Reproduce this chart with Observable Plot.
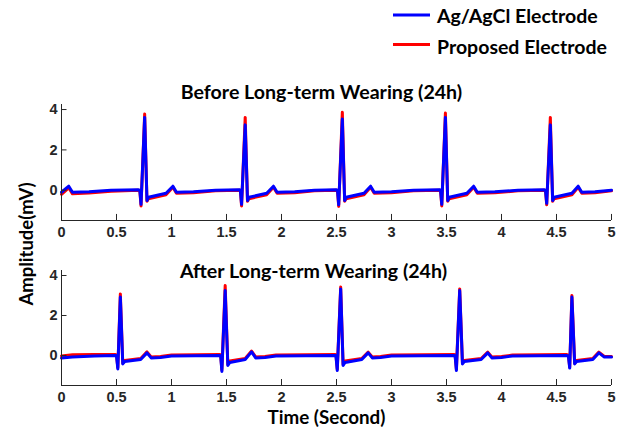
<!DOCTYPE html>
<html>
<head>
<meta charset="utf-8">
<script src="https://cdn.jsdelivr.net/npm/d3@7"></script>
<script src="https://cdn.jsdelivr.net/npm/@observablehq/plot@0.6"></script>
<style>
  html, body { margin: 0; padding: 0; background: #fff; }
  #wrap { position: relative; width: 626px; height: 432px; overflow: hidden; }
  #wrap > svg, #wrap > figure { position: absolute; left: 0; margin: 0; }
</style>
</head>
<body>
<div id="wrap"></div>
<script>
// ---------- DATA ----------
const xTicks = [0, 0.5, 1, 1.5, 2, 2.5, 3, 3.5, 4, 4.5, 5];
const yTicks = [0, 2, 4];

const seriesNames = ["Ag/AgCl Electrode", "Proposed Electrode"];
const panelTitles = ["Before Long-term Wearing (24h)", "After Long-term Wearing (24h)"];
const xLabel = "Time (Second)";
const yLabel = "Amplitude(mV)";

// Before long-term wearing: time (s), Ag/AgCl (mV), Proposed (mV)
const beforeT = [
  0.00, 0.066, 0.10, 0.25, 0.45, 0.70,
  0.712, 0.723, 0.756, 0.777, 0.790, 0.95, 1.013, 1.045, 1.20, 1.40, 1.62,
  1.626, 1.637, 1.670, 1.691, 1.704, 1.865, 1.927, 1.960, 2.12, 2.30, 2.50,
  2.509, 2.520, 2.553, 2.574, 2.587, 2.75, 2.81, 2.843, 3.00, 3.20, 3.44,
  3.446, 3.457, 3.490, 3.511, 3.524, 3.685, 3.747, 3.780, 3.94, 4.15, 4.39,
  4.400, 4.411, 4.444, 4.465, 4.478, 4.64, 4.697, 4.730, 4.85, 5.00
];
const beforeAg = [
  -0.10, 0.20, -0.10, -0.08, 0.00, 0.02,
  0.00, -0.70, 3.61, -0.51, -0.35, -0.15, 0.20, -0.10, -0.08, 0.00, 0.02,
  0.00, -0.70, 3.24, -0.51, -0.35, -0.15, 0.20, -0.10, -0.08, 0.00, 0.02,
  0.00, -0.72, 3.53, -0.51, -0.35, -0.15, 0.20, -0.10, -0.08, 0.00, 0.02,
  0.00, -0.70, 3.61, -0.51, -0.35, -0.15, 0.20, -0.10, -0.08, 0.00, 0.02,
  0.00, -0.65, 3.24, -0.51, -0.35, -0.15, 0.20, -0.10, -0.08, 0.00
];
const beforeProp = [
  -0.20, 0.12, -0.18, -0.14, -0.05, 0.00,
  -0.02, -0.78, 3.78, -0.55, -0.42, -0.22, 0.15, -0.15, -0.12, -0.03, 0.00,
  -0.02, -0.78, 3.61, -0.55, -0.42, -0.22, 0.15, -0.15, -0.12, -0.03, 0.00,
  -0.02, -0.80, 3.86, -0.55, -0.42, -0.22, 0.15, -0.15, -0.12, -0.03, 0.00,
  -0.02, -0.78, 3.83, -0.55, -0.42, -0.22, 0.15, -0.15, -0.12, -0.03, 0.00,
  -0.02, -0.72, 3.61, -0.55, -0.42, -0.22, 0.15, -0.15, -0.12, -0.03
];

// After long-term wearing: time (s), Ag/AgCl (mV), Proposed (mV)
const afterT = [
  0.00, 0.10, 0.30, 0.49,
  0.500, 0.512, 0.535, 0.557, 0.575, 0.72, 0.777, 0.815, 0.90, 1.00, 1.44,
  1.447, 1.458, 1.488, 1.512, 1.530, 1.67, 1.728, 1.765, 1.85, 1.95, 2.49,
  2.495, 2.507, 2.538, 2.560, 2.578, 2.73, 2.788, 2.825, 2.90, 3.00, 3.57,
  3.578, 3.590, 3.620, 3.645, 3.662, 3.815, 3.875, 3.912, 4.00, 4.10, 4.59,
  4.608, 4.620, 4.640, 4.665, 4.682, 4.83, 4.885, 4.935, 5.00
];
const afterAg = [
  -0.13, -0.08, -0.03, 0.00,
  -0.02, -0.67, 2.92, -0.42, -0.30, -0.20, 0.13, -0.12, -0.10, -0.02, 0.00,
  -0.02, -0.80, 3.25, -0.50, -0.35, -0.20, 0.18, -0.12, -0.10, -0.02, 0.00,
  -0.02, -0.75, 3.33, -0.50, -0.35, -0.20, 0.13, -0.12, -0.10, -0.02, 0.00,
  -0.02, -0.75, 3.25, -0.42, -0.30, -0.20, 0.13, -0.12, -0.10, -0.02, 0.00,
  -0.02, -0.63, 2.92, -0.42, -0.30, -0.20, 0.13, -0.08, -0.08
];
const afterProp = [
  -0.02, 0.04, 0.05, 0.05,
  0.02, -0.60, 3.08, -0.38, -0.25, -0.15, 0.18, -0.07, -0.05, 0.02, 0.05,
  0.02, -0.72, 3.50, -0.45, -0.28, -0.15, 0.22, -0.07, -0.05, 0.02, 0.05,
  0.02, -0.68, 3.42, -0.45, -0.28, -0.15, 0.17, -0.07, -0.05, 0.02, 0.05,
  0.02, -0.68, 3.33, -0.38, -0.25, -0.15, 0.17, -0.07, -0.05, 0.02, 0.05,
  0.02, -0.58, 3.00, -0.38, -0.25, -0.15, 0.17, -0.05, -0.05
];

const colors = ["#0000ff", "#ff0000"];

// ---------- BUILD ----------
const W = 626;
const axisColor = "#262626";
const textFont = "Lato, 'Open Sans', sans-serif";
const tickFont = "'Liberation Sans', Arial, sans-serif";
const yDomain = [-1.5, 4.25];
const xDomain = [0, 5];

function rows(T, A, P) {
  return T.map((t, i) => ({ t, ag: A[i], prop: P[i] }));
}

function panel(data, top, height, mTop, mBottom) {
  const chart = Plot.plot({
    width: W,
    height,
    marginLeft: 61,
    marginRight: 15,
    marginTop: mTop,
    marginBottom: mBottom,
    x: { domain: xDomain, axis: null },
    y: { domain: yDomain, axis: null },
    style: { fontFamily: tickFont, fontSize: "14.5px", fontWeight: "bold", color: axisColor, background: "transparent", overflow: "visible" },
    marks: [
      Plot.line(data, { x: "t", y: "prop", stroke: colors[1], strokeWidth: 3, strokeLinejoin: "round", strokeLinecap: "round" }),
      Plot.line(data, { x: "t", y: "ag", stroke: colors[0], strokeWidth: 3, strokeLinejoin: "round", strokeLinecap: "round" }),
      Plot.ruleX([xDomain[0]], { stroke: axisColor, strokeWidth: 1 }),
      Plot.ruleY([yDomain[0]], { stroke: axisColor, strokeWidth: 1 }),
      Plot.ruleX(xTicks, { x: d => d, y1: yDomain[0], y2: yDomain[0] + 0.3, stroke: axisColor, strokeWidth: 1 }),
      Plot.ruleY(yTicks, { y: d => d, x1: xDomain[0], x2: xDomain[0] + 0.05, stroke: axisColor, strokeWidth: 1 }),
      Plot.axisX({ ticks: xTicks, tickSize: 0, tickPadding: 6, label: null, tickFormat: d => String(d), fill: axisColor }),
      Plot.axisY({ ticks: yTicks, tickSize: 0, tickPadding: 4, label: null, tickFormat: d => String(d), fill: axisColor })
    ]
  });
  chart.style.top = top + "px";
  document.getElementById("wrap").appendChild(chart);
}

panel(rows(beforeT, beforeAg, beforeProp), 80, 170, 24, 30);
panel(rows(afterT, afterAg, afterProp), 250, 170, 20, 35);

// ---------- overlay text: legend, titles, axis labels ----------
const ov = d3.select("#wrap").append("svg")
  .attr("width", W).attr("height", 432)
  .style("top", "0px").style("pointer-events", "none")
  .attr("font-family", textFont).attr("font-weight", "bold");

const legendY = [15, 44.5];
const legendBase = [22.7, 54];
seriesNames.forEach((name, i) => {
  ov.append("line").attr("x1", 393).attr("x2", 430).attr("y1", legendY[i]).attr("y2", legendY[i])
    .attr("stroke", colors[i]).attr("stroke-width", 3);
  ov.append("text").attr("x", 437).attr("y", legendBase[i]).attr("font-size", 19.5).attr("fill", "#000").text(name);
});

const titlePos = [[321.5, 98.5], [313.5, 278]];
panelTitles.forEach((t, i) => {
  ov.append("text").attr("x", titlePos[i][0]).attr("y", titlePos[i][1])
    .attr("text-anchor", "middle").attr("font-size", 19.6).attr("fill", "#000").text(t);
});

ov.append("text").attr("x", 326.5).attr("y", 423.5).attr("text-anchor", "middle")
  .attr("font-size", 18.8).attr("fill", "#000").text(xLabel);

ov.append("text").attr("transform", "translate(33,244) rotate(-90)").attr("text-anchor", "middle")
  .attr("font-size", 18.5).attr("fill", "#000").text(yLabel);
</script>
</body>
</html>
